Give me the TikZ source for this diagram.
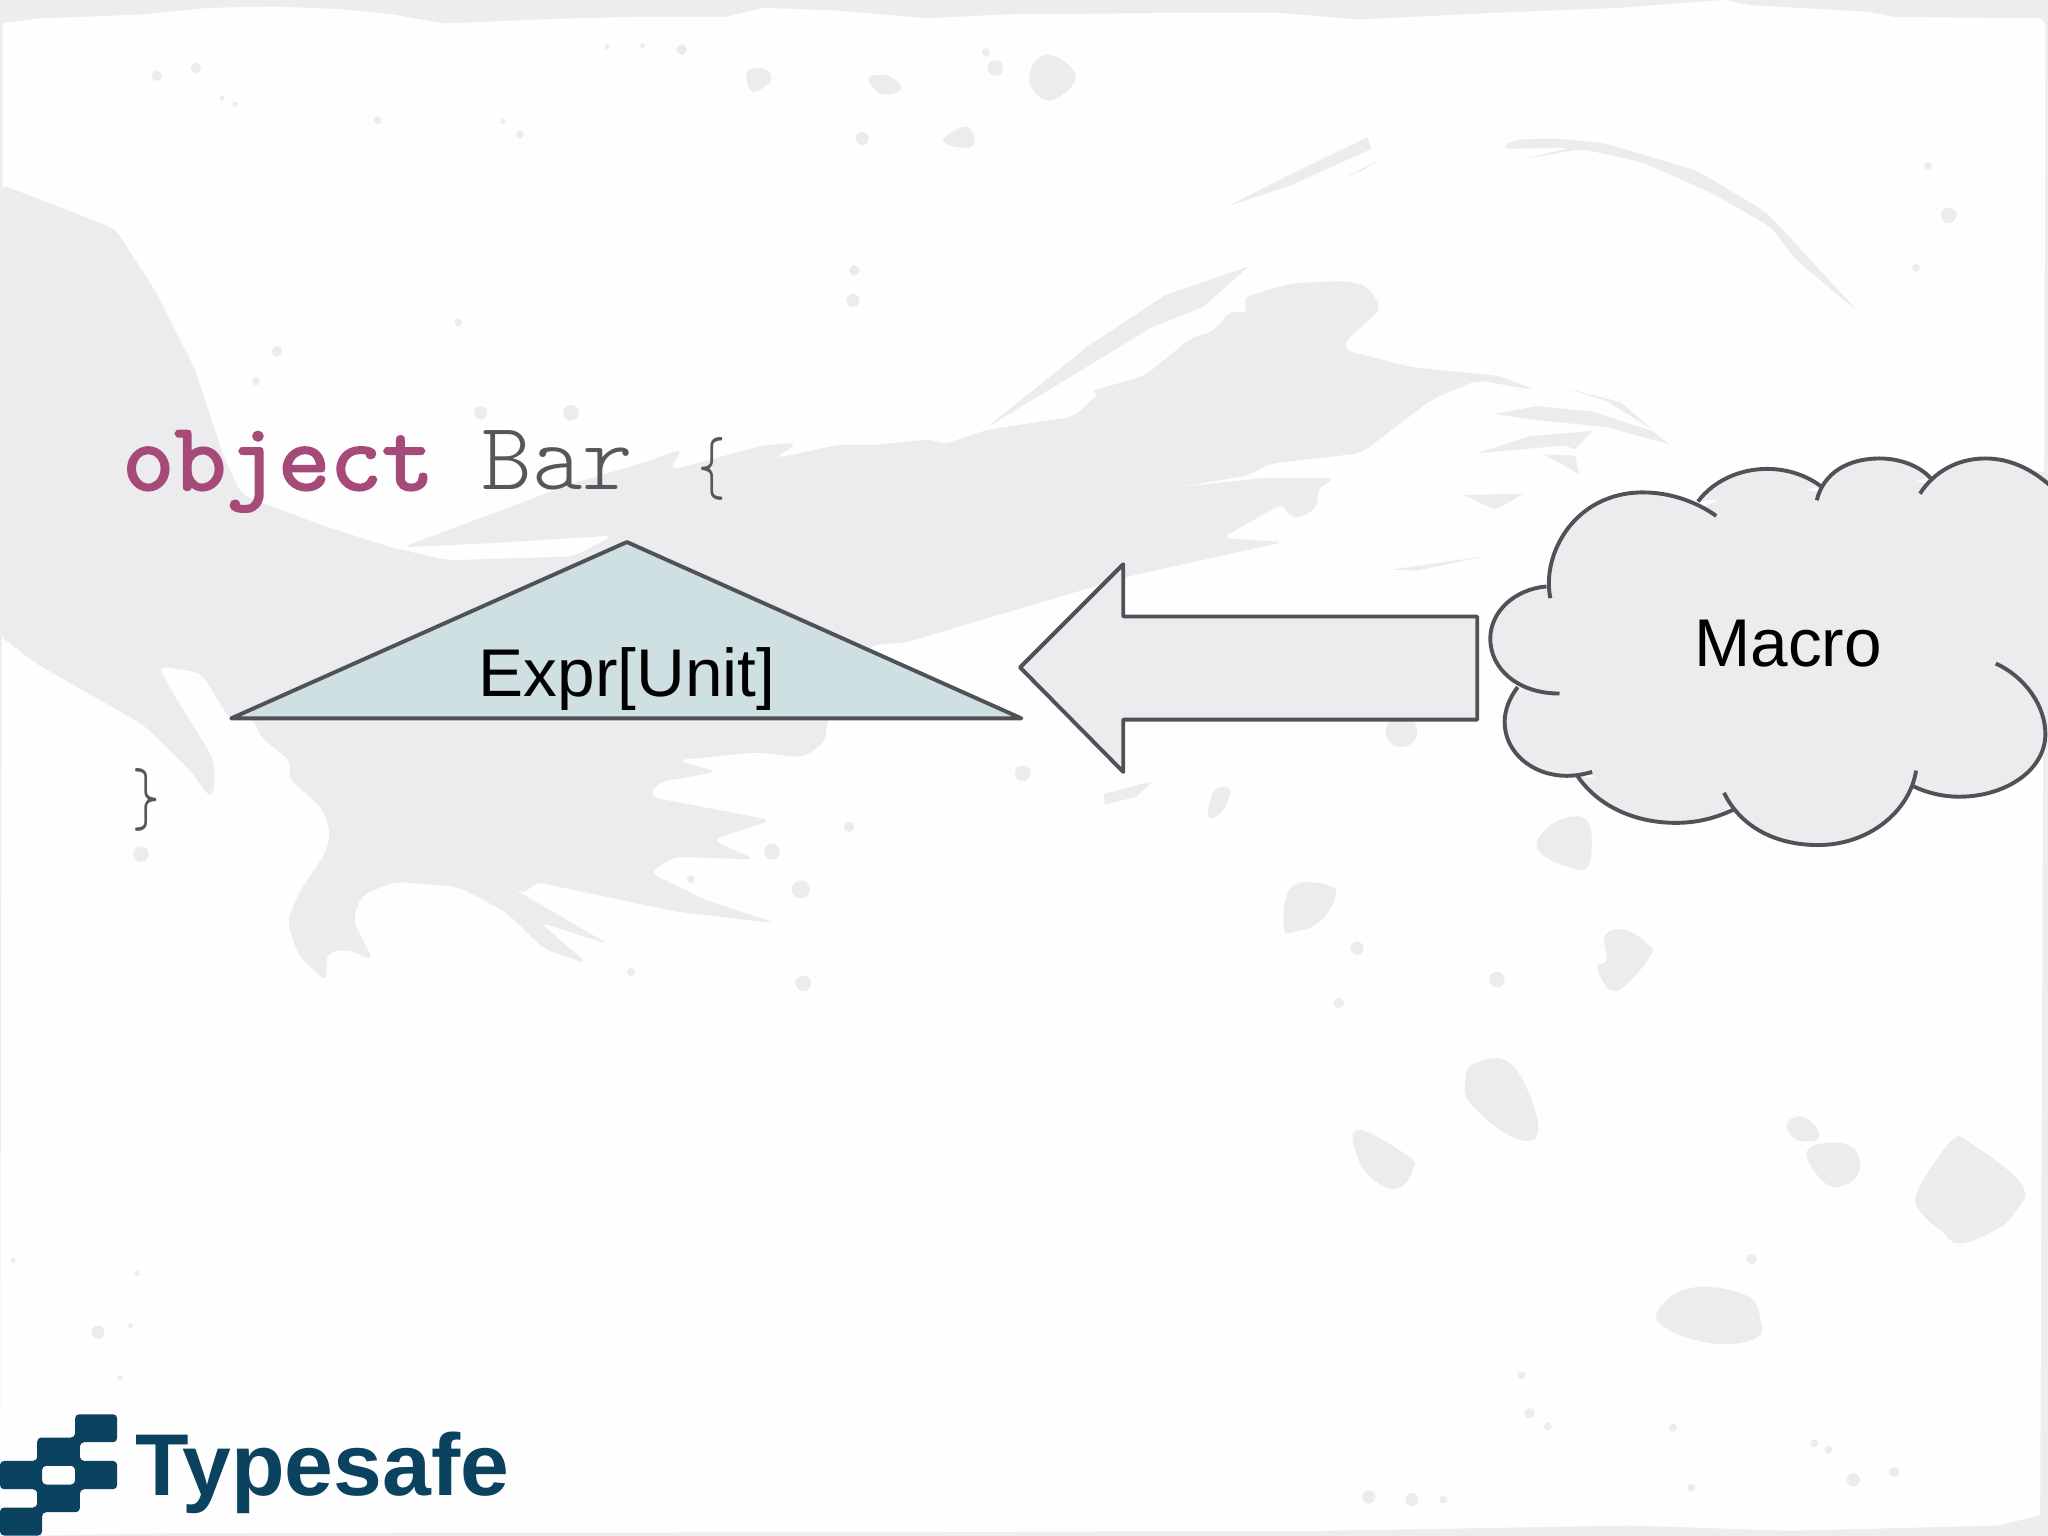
\documentclass[tikz,border=0pt]{standalone}
\usepackage{fontspec}
\setmainfont{Liberation Sans}
\newfontfamily\barfont{Latin Modern Mono Light}
\newfontfamily\bracefont[FakeStretch=0.65]{Latin Modern Mono Light}
\newfontfamily\keyfont[FakeBold=2.5,FakeStretch=1.045]{Latin Modern Mono}
\definecolor{bandgrey}{HTML}{EDEDED}
\definecolor{paper}{HTML}{FEFEFE}
\definecolor{splashgrey}{HTML}{ECECEE}
\definecolor{linegrey}{HTML}{505257}
\definecolor{exprblue}{HTML}{CFE0E3}
\definecolor{keyword}{HTML}{A64A78}
\definecolor{codegrey}{HTML}{55575B}
\definecolor{logoblue}{HTML}{0B4260}
\tikzset{
  splash/.style={fill=splashgrey},
  outline/.style={draw=linegrey,line width=0.85pt,line join=round},
  label/.style={anchor=base,inner sep=0pt,font=\fontsize{14.7}{16}\selectfont,text=black},
  code/.style={anchor=base west,inner sep=0pt,font=\barfont\fontsize{21}{24}\selectfont,text=codegrey},
  brace/.style={anchor=base,inner sep=0pt,font=\bracefont\fontsize{17.5}{20}\selectfont,text=codegrey}
}
\newcommand{\blob}[1]{\fill[splash] plot[smooth cycle,tension=0.7] coordinates {#1};}
\newcommand{\speck}[3]{\fill[splash] (#1,#2) circle (#3);}
\newcommand{\fillLobe}[1]{\fill[splashgrey] #1;}
\newcommand{\drawLobe}[1]{\draw[draw=linegrey,line width=0.85pt] #1;}
\newcommand{\cloudLobes}[1]{%
  #1{(1187,458) .. controls (1180,425) and (1205,377) .. (1258,377) .. controls (1280,377) and (1300,385) .. (1314,395)}
  #1{(1300,384) .. controls (1312,368) and (1332,359) .. (1353,359) .. controls (1370,359) and (1385,365) .. (1395,373)}
  #1{(1391,383) .. controls (1396,362) and (1415,351) .. (1439,351) .. controls (1455,351) and (1470,357) .. (1478,366)}
  #1{(1470,378) .. controls (1480,362) and (1498,351) .. (1520,351) .. controls (1540,351) and (1560,360) .. (1580,382)}
  #1{(1528,508) .. controls (1550,518) and (1566,540) .. (1566,562) .. controls (1566,590) and (1535,610) .. (1500,610) .. controls (1488,610) and (1475,607) .. (1465,602)}
  #1{(1467,590) .. controls (1462,622) and (1430,647) .. (1392,647) .. controls (1358,647) and (1332,632) .. (1320,607)}
  #1{(1327,620) .. controls (1312,627) and (1298,630) .. (1283,630) .. controls (1250,630) and (1222,616) .. (1207,593)}
  #1{(1219,591) .. controls (1212,593) and (1206,594) .. (1200,594) .. controls (1172,594) and (1152,575) .. (1152,553) .. controls (1152,543) and (1156,534) .. (1162,526)}
  #1{(1194,531) .. controls (1162,531) and (1141,512) .. (1141,489) .. controls (1141,468) and (1160,451) .. (1184,449)}
}
\begin{document}
\begin{tikzpicture}[x=0.01cm,y=-0.01cm]
  \useasboundingbox (0,0) rectangle (1568,1176);
  \clip (0,0) rectangle (1568,1176);
  % paper and its rough edge
  \fill[bandgrey] (0,0) rectangle (1568,1176);
  \fill[paper] (2,18) -- (30,14) -- (60,13) -- (110,11) -- (160,6) -- (210,5) -- (260,7) -- (300,11) -- (340,18)
    -- (410,15) -- (480,13) -- (555,13) -- (585,6) -- (640,8) -- (710,14) -- (770,11) -- (900,10) -- (980,10)
    -- (1040,15) -- (1140,10) -- (1240,6) -- (1320,0) -- (1340,4) -- (1430,9) -- (1450,13) -- (1562,14) -- (1566,18)
    -- (1565,400) -- (1562,1160) -- (1530,1168) -- (1370,1172) -- (1250,1168) -- (1014,1172) -- (700,1173)
    -- (130,1174) -- (0,1176) -- (2,153) -- cycle;
  % ink splash
  \fill[splash,rounded corners=2pt] (0,141) -- (44,158) -- (88,175) -- (119,223) -- (149,282) -- (171,349) -- (185,379)
    -- (246,402) -- (299,419) -- (343,429) -- (439,426) -- (470,410) -- (373,416) -- (308,419) -- (439,370) -- (497,353)
    -- (523,343) -- (512,360) -- (540,353) -- (584,341) -- (611,339) -- (593,351) -- (645,340) -- (666,341) -- (715,336)
    -- (720,341) -- (756,329) -- (822,319) -- (843,300) -- (833,300) -- (876,288) -- (902,267) -- (911,259) -- (929,254)
    -- (943,237) -- (956,241) -- (951,228) -- (988,217) -- (1031,215) -- (1047,219) -- (1058,236) -- (1029,262)
    -- (1029,268) -- (1080,281) -- (1149,288) -- (1176,299) -- (1131,291) -- (1096,306) -- (1042,347) -- (972,355)
    -- (956,364) -- (902,373) -- (967,366) -- (1023,366) -- (1007,375) -- (1011,385) -- (999,396) -- (986,396) -- (983,385)
    -- (935,412) -- (983,415) -- (865,441) -- (693,492) -- (666,494) -- (633,552) -- (632,568) -- (615,580) -- (580,576)
    -- (518,582) -- (549,591) -- (503,599) -- (497,610) -- (591,628) -- (545,643) -- (578,658) -- (516,656) -- (497,668)
    -- (540,689) -- (595,707) -- (518,698) -- (409,675) -- (402,685) -- (387,677) -- (466,723) -- (413,706) -- (450,738)
    -- (417,727) -- (387,698) -- (351,679) -- (303,675) -- (277,685) -- (270,704) -- (286,736) -- (268,727) -- (250,729)
    -- (250,752) -- (228,731) -- (220,706) -- (228,685) -- (250,652) -- (253,635) -- (246,618) -- (220,595) -- (224,584)
    -- (198,563) -- (196,551) -- (176,551) -- (154,515) -- (121,510) -- (132,530) -- (163,580) -- (165,597) -- (162,612)
    -- (145,589) -- (110,555) -- (26,507) -- (2,488) -- (0,486) -- cycle;
  % feathers
  \fill[splash] (756,327) -- (833,265) -- (892,226) -- (956,204) -- (921,235) -- (881,251) -- (827,284) -- cycle;
  \fill[splash] (940,158) -- (983,136) -- (1047,105) -- (1050,114) -- (988,142) -- cycle;
  \fill[splash] (1029,136) -- (1058,122) -- (1042,131) -- cycle;
  \fill[splash,rounded corners=2pt] (1149,114) -- (1158,107) -- (1192,106) -- (1230,110) -- (1300,131) -- (1353,163) -- (1423,239) -- (1375,199)
    -- (1356,174) -- (1311,148) -- (1257,124) -- (1211,114) -- (1166,122) -- (1203,113) -- cycle;
  \fill[splash] (1144,317) -- (1176,311) -- (1219,315) -- (1265,330) -- (1278,340) -- (1230,327) -- (1171,321) -- cycle;
  \fill[splash] (1198,297) -- (1241,308) -- (1265,329) -- (1230,307) -- cycle;
  \fill[splash] (1131,347) -- (1171,334) -- (1219,330) -- (1206,344) -- (1198,341) -- cycle;
  \fill[splash] (1182,348) -- (1206,349) -- (1209,363) -- (1195,355) -- cycle;
  \fill[splash] (1121,379) -- (1166,378) -- (1155,385) -- (1144,390) -- cycle;
  \fill[splash] (1066,436) -- (1136,426) -- (1085,437) -- cycle;
  \fill[splash] (845,608) -- (883,598) -- (870,610) -- (846,616) -- cycle;
  % blots
  \blob{(989,679) (1018,678) (1022,688) (1010,706) (993,713) (983,711)}
  \blob{(1128,815) (1153,812) (1171,838) (1177,869) (1157,870) (1126,845) (1122,827)}
  \blob{(1039,865) (1078,885) (1082,895) (1072,909) (1057,907) (1041,890)}
  \blob{(1229,716) (1244,712) (1262,723) (1264,731) (1246,753) (1233,758) (1223,741) (1230,735)}
  \blob{(1368,860) (1380,855) (1392,865) (1390,873) (1374,872)}
  \blob{(1383,884) (1399,875) (1420,880) (1422,900) (1401,908)}
  \blob{(1496,872) (1507,874) (1548,907) (1542,929) (1527,942) (1500,952) (1486,942) (1476,934) (1467,922) (1469,910) (1482,889)}
  \blob{(1269,1004) (1295,986) (1337,992) (1348,1011) (1345,1024) (1316,1029) (1279,1019)}
  \blob{(797,43) (815,47) (823,62) (803,77) (788,62)}
  \blob{(740,97) (746,110) (735,113) (722,107)}
  \blob{(1177,650) (1190,630) (1215,628) (1217,660) (1205,665)}
  \blob{(925,625) (930,605) (942,605) (935,622)}
  \blob{(665,60) (680,58) (690,68) (675,72)}
  \blob{(572,55) (586,53) (590,62) (576,70)}
  \foreach \x/\y/\r in {1039/726/5,1146/750/6,1025/768/4,1341/964/4,1165/1053/3,1171/1082/4,1185/1092/3,1281/1093/3,
    1389/1105/3,1400/1110/3,1419/1133/5,1450/1127/4,1048/1146/5,1081/1148/5,1105/1148/3,1295/1139/3,150/52/4,120/58/4,
    762/52/6,522/38/4,465/36/2,492/35/2,755/40/3,660/106/5,289/92/3,385/93/2,398/103/3,180/80/2,170/75/2,654/207/4,
    653/230/5,351/247/3,212/269/4,196/292/3,368/316/5,437/316/6,108/654/6,529/673/3,591/652/6,613/681/7,615/753/6,
    483/744/3,650/633/4,783/592/6,1073/560/12,105/975/2,75/1020/5,100/1015/2,92/1055/2,10/965/2,1476/127/3,1492/165/6,
    1467/205/3}
    {\speck{\x}{\y}{\r}}
  % code
  \node[code,text=keyword] (keyword) at (93,375) {\keyfont object};
  \node[code] (header) at (368,375) {Bar};
  \node[brace] (opening) at (545,378) {\{};
  \node[brace] (closing) at (112,631) {\}};
  % expression
  \coordinate (left) at (177,550);
  \coordinate (top) at (480,415);
  \coordinate (right) at (782,550);
  \draw[outline,fill=exprblue] (left) -- (top) -- (right) -- cycle;
  \node[label] (expr) at (480,533) {Expr[Unit]};
  % arrow
  \draw[outline,fill=splashgrey] (781,511) -- (860,432) -- (860,472) -- (1131,472) -- (1131,551) -- (860,551) -- (860,591) -- cycle;
  % cloud
  \fill[splashgrey] (1186,452) -- (1230,400) -- (1305,388) -- (1350,365) -- (1395,378) -- (1440,358) -- (1478,372)
    -- (1520,358) -- (1575,362) -- (1575,560) -- (1500,603) -- (1465,600) -- (1392,640) -- (1325,618) -- (1283,625)
    -- (1210,590) -- (1165,575) -- (1165,527) -- (1150,490) -- cycle;
  \cloudLobes{\fillLobe}
  \cloudLobes{\drawLobe}
  \node[label] (macro) at (1369,510) {Macro};
  % logo
  \fill[logoblue,even odd rule,rounded corners=0.9pt] (57.5,1082.8) -- (89.7,1082.8) -- (89.7,1104.2) -- (61.2,1104.2)
    -- (61.2,1118.5) -- (89.7,1118.5) -- (89.7,1140.2) -- (61.2,1140.2) -- (61.2,1157.8) -- (32.2,1157.8) -- (32.2,1175.7)
    -- (0,1175.7) -- (0,1154.2) -- (28.5,1154.2) -- (28.5,1140.2) -- (0,1140.2) -- (0,1118.5) -- (28.5,1118.5)
    -- (28.5,1100.6) -- (57.5,1100.6) -- cycle
    (32.2,1122.3) -- (57.5,1122.3) -- (57.5,1136.6) -- (32.2,1136.6) -- cycle;
  \node[anchor=base west,inner sep=0pt,font=\bfseries\fontsize{19.1}{22}\selectfont,text=logoblue] (brand) at (103,1145) {Typesafe};
\end{tikzpicture}
\end{document}
